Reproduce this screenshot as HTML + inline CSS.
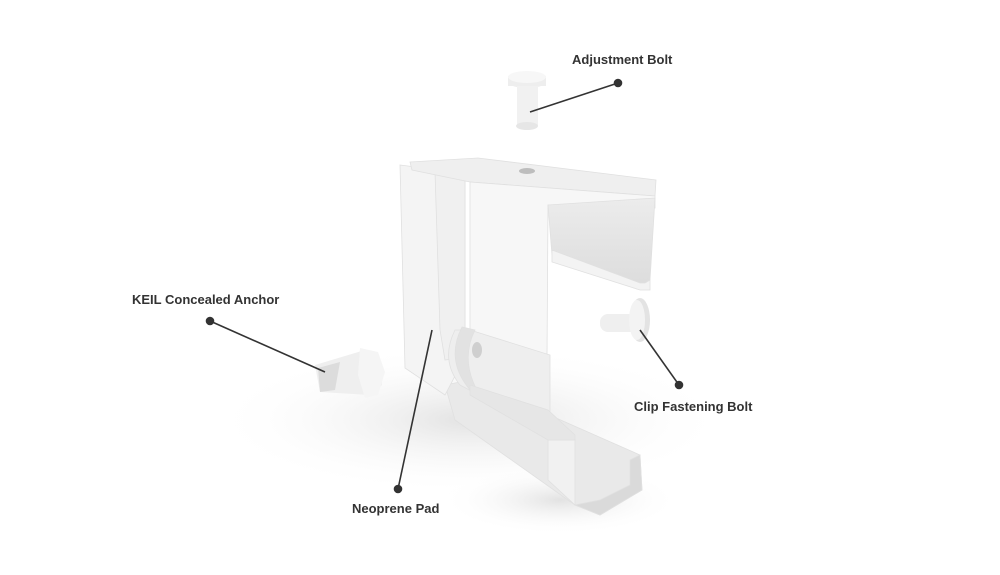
<!DOCTYPE html>
<html><head><meta charset="utf-8"><style>
html,body{margin:0;padding:0;background:#fff;}
body{width:1000px;height:575px;overflow:hidden;position:relative;font-family:"Liberation Sans",sans-serif;}
.l{position:absolute;font-weight:bold;font-size:13px;color:#333;white-space:nowrap;}
</style></head><body>
<svg width="1000" height="575" style="position:absolute;left:0;top:0">
<defs>
<radialGradient id="sh" cx="50%" cy="50%" r="50%">
<stop offset="0" stop-color="#e2e2e2"/><stop offset="1" stop-color="#fff" stop-opacity="0"/>
</radialGradient>
<linearGradient id="in" x1="0" y1="0" x2="0" y2="1"><stop offset="0" stop-color="#ececec"/><stop offset="1" stop-color="#dcdcdc"/></linearGradient>
</defs>
<ellipse cx="470" cy="420" rx="260" ry="75" fill="url(#sh)"/>
<ellipse cx="560" cy="500" rx="120" ry="35" fill="url(#sh)"/>
<g stroke="#e0e0e0" stroke-width="0.8">
<!-- bottom channel -->
<polygon points="445,385 470,380 640,455 642,490 600,515 575,505 455,420" fill="#e9e9e9"/>
<polygon points="575,505 600,515 642,490 640,455 630,460 630,485 600,500" fill="#dadada"/>
<polygon points="548,440 575,440 575,505 548,480" fill="#f1f1f1"/>
<!-- left plate -->
<polygon points="400,165 455,172 465,178 465,357 445,395 405,368" fill="#f4f4f4"/>
<polygon points="435,172 465,178 465,357 445,360 440,330" fill="#f0f0f0"/>
<!-- top face -->
<polygon points="410,162 478,158 656,180 655,196 470,182 412,170" fill="#efefef"/>
<!-- front face -->
<polygon points="470,182 655,196 655,208 548,205 547,357 470,345" fill="#f7f7f7"/>
<!-- right tube -->
<polygon points="548,205 655,198 650,280 640,287 552,255" fill="url(#in)"/>
<polygon points="552,250 640,283 645,283 650,280 650,290 640,290 552,262" fill="#f3f3f3"/>
<!-- slotted part -->
<path d="M455,330 Q440,360 460,385 L475,393 L550,420 L550,355 L470,330 Z" fill="#eeeeee"/>
<path d="M462,327 Q445,360 470,390 L478,392 Q460,360 475,330 Z" fill="#e2e2e2"/>
<polygon points="470,385 548,410 575,435 575,440 548,440 470,395" fill="#e6e6e6"/>
</g>
<ellipse cx="527" cy="171" rx="8" ry="3" fill="#bdbdbd"/>
<ellipse cx="477" cy="350" rx="5" ry="8" fill="#cfcfcf"/>
<!-- adjustment bolt -->
<ellipse cx="527" cy="82" rx="19" ry="6" fill="#eee"/>
<rect x="508" y="76" width="38" height="10" fill="#eee"/>
<ellipse cx="527" cy="77" rx="19" ry="6" fill="#f7f7f7"/>
<rect x="517" y="86" width="21" height="40" fill="#f1f1f1"/>
<ellipse cx="527" cy="126" rx="11" ry="4" fill="#e6e6e6"/>
<!-- clip bolt -->
<rect x="600" y="314" width="42" height="18" rx="8" fill="#efefef"/>
<ellipse cx="640" cy="320" rx="10" ry="22" fill="#e3e3e3"/>
<ellipse cx="637" cy="320" rx="8" ry="20" fill="#f3f3f3"/>
<!-- anchor -->
<polygon points="315,365 365,350 380,360 382,385 370,395 320,392" fill="#efefef"/>
<polygon points="360,348 378,352 385,372 378,395 365,398 358,375" fill="#f5f5f5"/>
<polygon points="318,368 340,362 335,390 320,392" fill="#dcdcdc"/>
<!-- leaders -->
<g stroke="#333" stroke-width="1.6" fill="#333">
<line x1="618" y1="83" x2="530" y2="112"/><circle cx="618" cy="83" r="3.5"/>
<line x1="210" y1="321" x2="325" y2="372"/><circle cx="210" cy="321" r="3.5"/>
<line x1="679" y1="385" x2="640" y2="330"/><circle cx="679" cy="385" r="3.5"/>
<line x1="398" y1="489" x2="432" y2="330"/><circle cx="398" cy="489" r="3.5"/>
</g>
</svg>
<div class="l" style="left:572px;top:52px">Adjustment Bolt</div>
<div class="l" style="left:132px;top:292px">KEIL Concealed Anchor</div>
<div class="l" style="left:634px;top:399px">Clip Fastening Bolt</div>
<div class="l" style="left:352px;top:501px">Neoprene Pad</div>
</body></html>
